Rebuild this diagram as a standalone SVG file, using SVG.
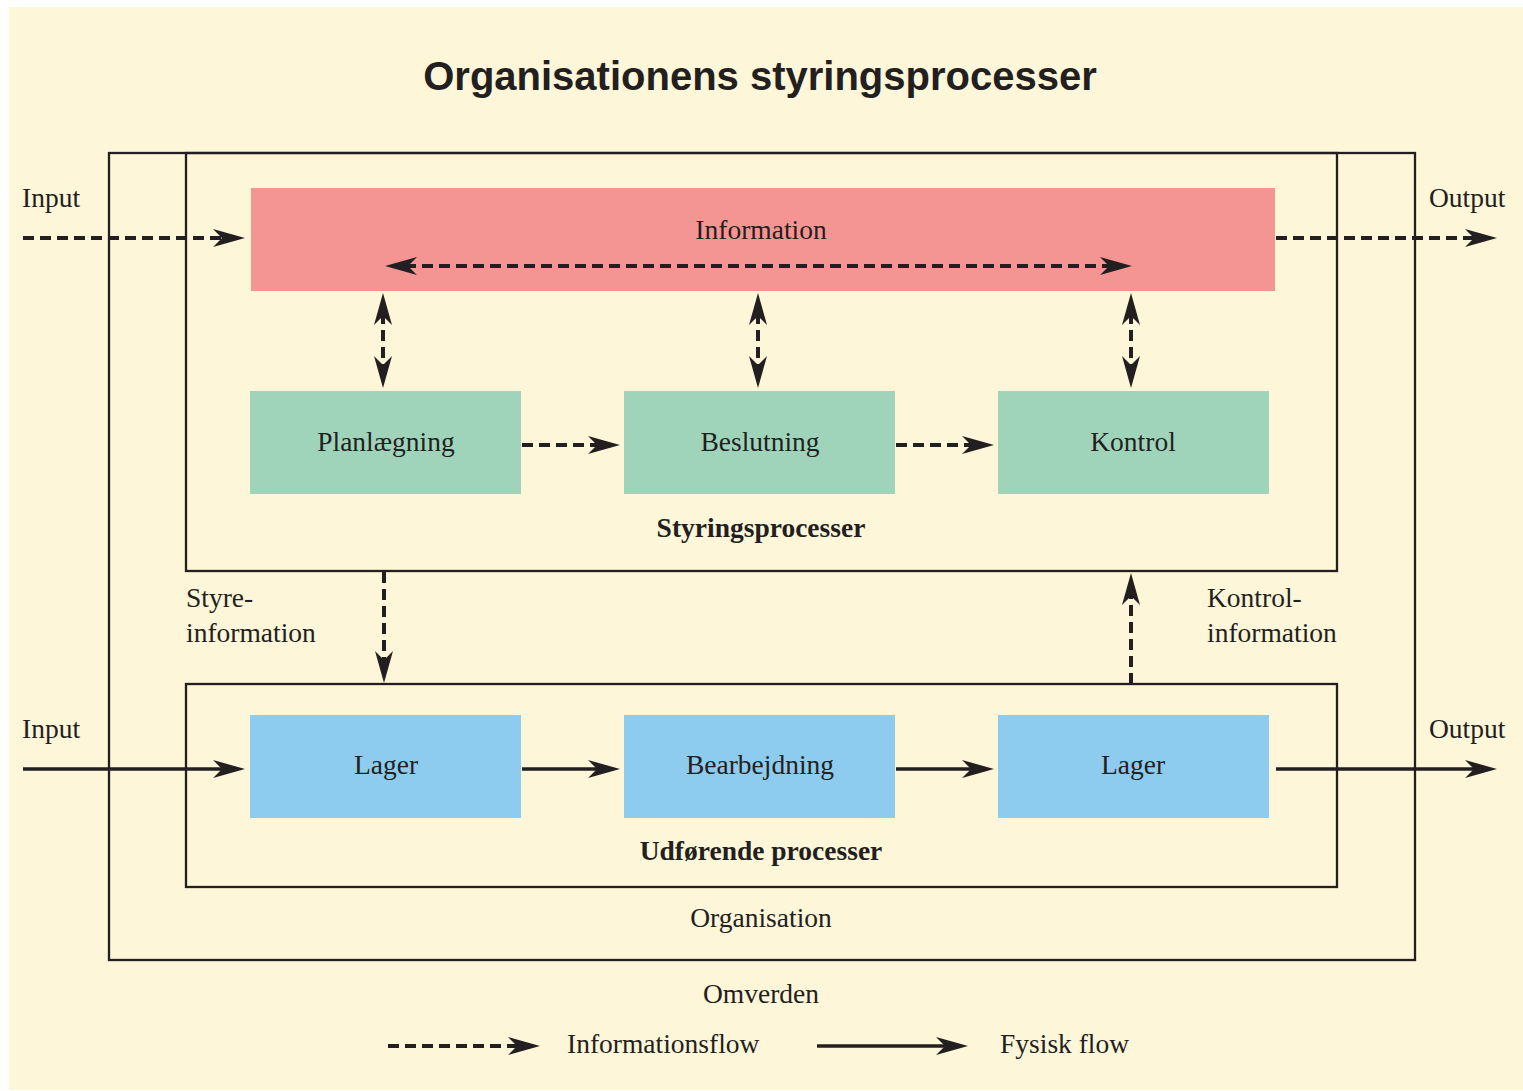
<svg xmlns="http://www.w3.org/2000/svg" width="1523" height="1091" viewBox="0 0 1523 1091">
  <defs>
    <style>
      .frame { fill: none; stroke: #231f20; stroke-width: 2.3; }
      .info { fill: #f59593; }
      .steer { fill: #9fd4bb; }
      .exec { fill: #8dcbef; }
      .lbl { font-family: "Liberation Serif", "DejaVu Serif", serif; font-size: 27.5px; fill: #231f20; }
      .mid { text-anchor: middle; }
      .bold { font-weight: bold; }
      .title { font-family: "Liberation Sans", Arial, sans-serif; font-weight: bold; font-size: 40px; fill: #231f20; text-anchor: middle; }
      .dash { fill: none; stroke: #231f20; stroke-width: 4; stroke-dasharray: 11 6; }
      .solid { fill: none; stroke: #231f20; stroke-width: 3.5; }
    </style>
    <marker id="dart" markerUnits="userSpaceOnUse" markerWidth="40" markerHeight="20" viewBox="0 -10 40 20" refX="12" refY="0" orient="auto-start-reverse">
      <path d="M0,-9 L32,0 L0,9 L9,0 Z" fill="#231f20"/>
    </marker>
  </defs>

  <!-- paper -->
  <rect x="0" y="0" width="1523" height="1091" fill="#ffffff"/>
  <rect x="9" y="7" width="1514" height="1083" fill="#fdf6d9"/>

  <text class="title" x="760" y="90">Organisationens styringsprocesser</text>

  <!-- enclosing frames -->
  <g id="organisation">
    <rect class="frame" x="109" y="153" width="1306" height="807"/>
    <text class="lbl mid" x="761" y="927">Organisation</text>
  </g>
  <g id="styringsprocesser">
    <rect class="frame" x="186" y="153" width="1151" height="418"/>
    <text class="lbl mid bold" x="761" y="537">Styringsprocesser</text>
  </g>
  <g id="udfoerende">
    <rect class="frame" x="186" y="684" width="1151" height="203"/>
    <text class="lbl mid bold" x="761" y="860">Udførende processer</text>
  </g>

  <!-- nodes -->
  <g id="information">
    <rect class="info" x="251" y="188" width="1024" height="103"/>
    <text class="lbl mid" x="761" y="239">Information</text>
  </g>
  <g id="planlaegning">
    <rect class="steer" x="250" y="391" width="271" height="103"/>
    <text class="lbl mid" x="386" y="451">Planlægning</text>
  </g>
  <g id="beslutning">
    <rect class="steer" x="624" y="391" width="271" height="103"/>
    <text class="lbl mid" x="760" y="451">Beslutning</text>
  </g>
  <g id="kontrol">
    <rect class="steer" x="998" y="391" width="271" height="103"/>
    <text class="lbl mid" x="1133" y="451">Kontrol</text>
  </g>
  <g id="lager-ind">
    <rect class="exec" x="250" y="715" width="271" height="103"/>
    <text class="lbl mid" x="386" y="774">Lager</text>
  </g>
  <g id="bearbejdning">
    <rect class="exec" x="624" y="715" width="271" height="103"/>
    <text class="lbl mid" x="760" y="774">Bearbejdning</text>
  </g>
  <g id="lager-ud">
    <rect class="exec" x="998" y="715" width="271" height="103"/>
    <text class="lbl mid" x="1133" y="774">Lager</text>
  </g>

  <!-- free labels -->
  <g id="labels">
    <text class="lbl" x="22" y="207">Input</text>
    <text class="lbl" x="1429" y="207">Output</text>
    <text class="lbl" x="22" y="738">Input</text>
    <text class="lbl" x="1429" y="738">Output</text>
    <text class="lbl" x="186" y="607">Styre-</text>
    <text class="lbl" x="186" y="642">information</text>
    <text class="lbl" x="1207" y="607">Kontrol-</text>
    <text class="lbl" x="1207" y="642">information</text>
    <text class="lbl mid" x="761" y="1003">Omverden</text>
    <text class="lbl" x="567" y="1053">Informationsflow</text>
    <text class="lbl" x="1000" y="1053">Fysisk flow</text>
  </g>

  <!-- connectors -->
  <g id="connectors">
    <!-- information flow -->
    <line class="dash" x1="23" y1="238" x2="225" y2="238" marker-end="url(#dart)"/>
    <line class="dash" x1="1276" y1="238" x2="1477" y2="238" marker-end="url(#dart)"/>
    <line class="dash" x1="405" y1="266" x2="1112" y2="266" marker-start="url(#dart)" marker-end="url(#dart)"/>
    <line class="dash" x1="383" y1="313" x2="383" y2="368" marker-start="url(#dart)" marker-end="url(#dart)"/>
    <line class="dash" x1="758" y1="313" x2="758" y2="368" marker-start="url(#dart)" marker-end="url(#dart)"/>
    <line class="dash" x1="1131" y1="313" x2="1131" y2="368" marker-start="url(#dart)" marker-end="url(#dart)"/>
    <line class="dash" x1="522" y1="445" x2="600" y2="445" marker-end="url(#dart)"/>
    <line class="dash" x1="896" y1="445" x2="974" y2="445" marker-end="url(#dart)"/>
    <line class="dash" x1="384" y1="572" x2="384" y2="663" marker-end="url(#dart)"/>
    <line class="dash" x1="1131" y1="684" x2="1131" y2="593" marker-end="url(#dart)"/>
    <!-- physical flow -->
    <line class="solid" x1="23" y1="769" x2="225" y2="769" marker-end="url(#dart)"/>
    <line class="solid" x1="522" y1="769" x2="600" y2="769" marker-end="url(#dart)"/>
    <line class="solid" x1="896" y1="769" x2="974" y2="769" marker-end="url(#dart)"/>
    <line class="solid" x1="1276" y1="769" x2="1477" y2="769" marker-end="url(#dart)"/>
    <!-- legend -->
    <line class="dash" x1="388" y1="1046" x2="520" y2="1046" stroke-dasharray="9 6" marker-end="url(#dart)"/>
    <line class="solid" x1="817" y1="1046" x2="948" y2="1046" marker-end="url(#dart)"/>
  </g>
</svg>
